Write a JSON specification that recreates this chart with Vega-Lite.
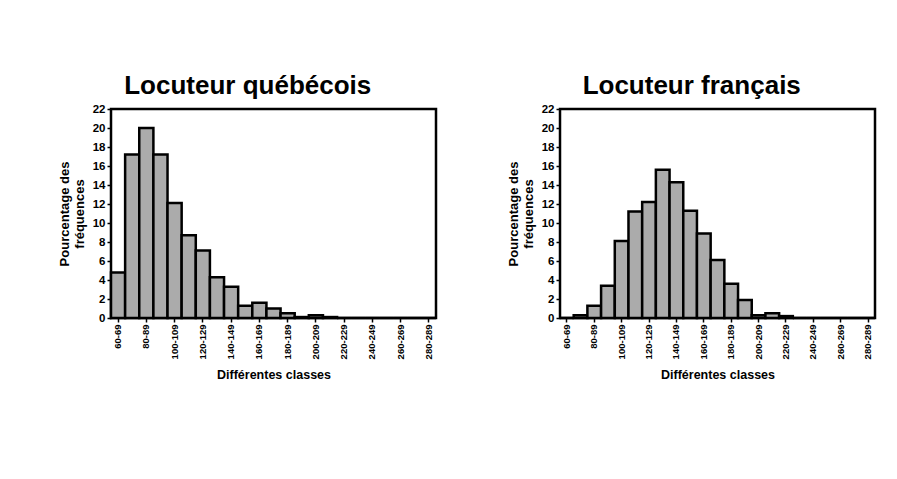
{
  "$schema": "https://vega.github.io/schema/vega-lite/v6.json",
  "background": "white",
  "padding": {"left": 56, "top": 71, "right": 20, "bottom": 10},
  "spacing": 66,
  "config": {
    "font": "Liberation Sans",
    "view": {"stroke": "black", "strokeWidth": 2.5},
    "axis": {
      "domain": false,
      "tickColor": "black",
      "tickWidth": 1.5,
      "tickSize": 4,
      "labelColor": "black",
      "labelFont": "Liberation Sans",
      "labelFontWeight": "bold",
      "titleColor": "black",
      "titleFont": "Liberation Sans",
      "titleFontWeight": "bold",
      "grid": false
    },
    "title": {"font": "Liberation Sans", "fontSize": 26, "fontWeight": "bold", "color": "black", "anchor": "middle", "frame": "bounds", "offset": 4}
  },
  "datasets": {
    "freq": [
      {"classe": "60-69", "locuteur": "québécois", "pct": 4.8},
      {"classe": "70-79", "locuteur": "québécois", "pct": 17.2},
      {"classe": "80-89", "locuteur": "québécois", "pct": 20.0},
      {"classe": "90-99", "locuteur": "québécois", "pct": 17.2},
      {"classe": "100-109", "locuteur": "québécois", "pct": 12.1},
      {"classe": "110-119", "locuteur": "québécois", "pct": 8.7},
      {"classe": "120-129", "locuteur": "québécois", "pct": 7.1},
      {"classe": "130-139", "locuteur": "québécois", "pct": 4.3},
      {"classe": "140-149", "locuteur": "québécois", "pct": 3.3},
      {"classe": "150-159", "locuteur": "québécois", "pct": 1.3},
      {"classe": "160-169", "locuteur": "québécois", "pct": 1.6},
      {"classe": "170-179", "locuteur": "québécois", "pct": 1.0},
      {"classe": "180-189", "locuteur": "québécois", "pct": 0.5},
      {"classe": "190-199", "locuteur": "québécois", "pct": 0.1},
      {"classe": "200-209", "locuteur": "québécois", "pct": 0.3},
      {"classe": "210-219", "locuteur": "québécois", "pct": 0.1},
      {"classe": "220-229", "locuteur": "québécois", "pct": 0},
      {"classe": "230-239", "locuteur": "québécois", "pct": 0},
      {"classe": "240-249", "locuteur": "québécois", "pct": 0},
      {"classe": "250-259", "locuteur": "québécois", "pct": 0},
      {"classe": "260-269", "locuteur": "québécois", "pct": 0},
      {"classe": "270-279", "locuteur": "québécois", "pct": 0},
      {"classe": "280-289", "locuteur": "québécois", "pct": 0},
      {"classe": "60-69", "locuteur": "français", "pct": 0},
      {"classe": "70-79", "locuteur": "français", "pct": 0.3},
      {"classe": "80-89", "locuteur": "français", "pct": 1.3},
      {"classe": "90-99", "locuteur": "français", "pct": 3.4},
      {"classe": "100-109", "locuteur": "français", "pct": 8.1},
      {"classe": "110-119", "locuteur": "français", "pct": 11.2},
      {"classe": "120-129", "locuteur": "français", "pct": 12.2},
      {"classe": "130-139", "locuteur": "français", "pct": 15.6},
      {"classe": "140-149", "locuteur": "français", "pct": 14.3},
      {"classe": "150-159", "locuteur": "français", "pct": 11.3},
      {"classe": "160-169", "locuteur": "français", "pct": 8.9},
      {"classe": "170-179", "locuteur": "français", "pct": 6.1},
      {"classe": "180-189", "locuteur": "français", "pct": 3.6},
      {"classe": "190-199", "locuteur": "français", "pct": 1.9},
      {"classe": "200-209", "locuteur": "français", "pct": 0.3},
      {"classe": "210-219", "locuteur": "français", "pct": 0.5},
      {"classe": "220-229", "locuteur": "français", "pct": 0.2},
      {"classe": "230-239", "locuteur": "français", "pct": 0},
      {"classe": "240-249", "locuteur": "français", "pct": 0},
      {"classe": "250-259", "locuteur": "français", "pct": 0},
      {"classe": "260-269", "locuteur": "français", "pct": 0},
      {"classe": "270-279", "locuteur": "français", "pct": 0},
      {"classe": "280-289", "locuteur": "français", "pct": 0}
    ]
  },
  "hconcat": [
    {
      "title": "Locuteur québécois",
      "width": 325,
      "height": 209,
      "data": {"name": "freq"},
      "transform": [{"filter": "datum.locuteur === 'québécois'"}],
      "mark": {"type": "bar", "fill": "#ababab", "stroke": "black", "strokeWidth": 2.5},
      "encoding": {
        "x": {
          "field": "classe", "type": "nominal",
          "scale": {"paddingInner": 0, "paddingOuter": 0, "domain": ["60-69","70-79","80-89","90-99","100-109","110-119","120-129","130-139","140-149","150-159","160-169","170-179","180-189","190-199","200-209","210-219","220-229","230-239","240-249","250-259","260-269","270-279","280-289"]},
          "axis": {"values": ["60-69","80-89","100-109","120-129","140-149","160-169","180-189","200-209","220-229","240-249","260-269","280-289"], "labelAngle": -90, "labelFontSize": 9.5, "title": "Différentes classes", "titleFontSize": 12.5, "titlePadding": 10}
        },
        "y": {
          "field": "pct", "type": "quantitative",
          "scale": {"domain": [0, 22], "nice": false},
          "axis": {"values": [0,2,4,6,8,10,12,14,16,18,20,22], "labelFontSize": 11.5, "title": ["Pourcentage des", "fréquences"], "titleFontSize": 13, "titlePadding": 6}
        }
      }
    },
    {
      "title": "Locuteur français",
      "width": 315,
      "height": 209,
      "data": {"name": "freq"},
      "transform": [{"filter": "datum.locuteur === 'français'"}],
      "mark": {"type": "bar", "fill": "#ababab", "stroke": "black", "strokeWidth": 2.5},
      "encoding": {
        "x": {
          "field": "classe", "type": "nominal",
          "scale": {"paddingInner": 0, "paddingOuter": 0, "domain": ["60-69","70-79","80-89","90-99","100-109","110-119","120-129","130-139","140-149","150-159","160-169","170-179","180-189","190-199","200-209","210-219","220-229","230-239","240-249","250-259","260-269","270-279","280-289"]},
          "axis": {"values": ["60-69","80-89","100-109","120-129","140-149","160-169","180-189","200-209","220-229","240-249","260-269","280-289"], "labelAngle": -90, "labelFontSize": 9.5, "title": "Différentes classes", "titleFontSize": 12.5, "titlePadding": 10}
        },
        "y": {
          "field": "pct", "type": "quantitative",
          "scale": {"domain": [0, 22], "nice": false},
          "axis": {"values": [0,2,4,6,8,10,12,14,16,18,20,22], "labelFontSize": 11.5, "title": ["Pourcentage des", "fréquences"], "titleFontSize": 13, "titlePadding": 6}
        }
      }
    }
  ]
}
